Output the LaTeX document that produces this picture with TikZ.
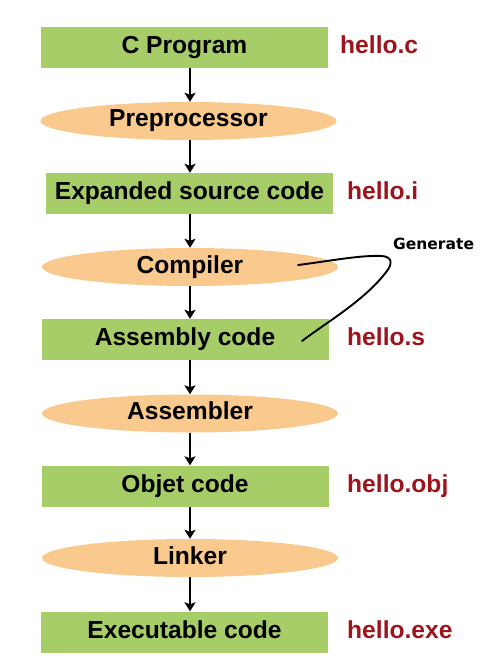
\documentclass[tikz,border=0pt]{standalone}
\usepackage{fontspec}
\setmainfont{Liberation Sans}
\newfontfamily\genfont{DejaVu Sans}
\usetikzlibrary{arrows.meta,shapes.geometric}
\definecolor{boxgreen}{RGB}{166,205,104}
\definecolor{ellorange}{RGB}{250,201,142}
\definecolor{labred}{RGB}{158,20,28}
\tikzset{
  every node/.style={font=\fontsize{24.6}{28}\selectfont\bfseries, inner sep=0pt, text height=17pt, text depth=5pt},
  stagebox/.style={rectangle, fill=boxgreen, minimum width=287pt, minimum height=41pt},
  toolell/.style={ellipse, fill=ellorange, minimum width=296pt, minimum height=38pt},
  filelab/.style={anchor=west, text=labred},
  flow/.style={line width=2.2pt, -{Stealth[length=9pt,width=11pt,inset=2pt]}},
  gencurve/.style={line width=1.9pt, line cap=round, line join=round}
}
\begin{document}
\begin{tikzpicture}[x=1pt,y=-1pt]
\useasboundingbox (0,0) rectangle (488,668);
\node[stagebox] (cprog) at (184.5,47.5) {C Program};
\node[toolell] (pre) at (188.5,121) {Preprocessor};
\node[stagebox] (exp) at (189.5,193.5) {Expanded source code};
\node[toolell] (comp) at (190,267) {Compiler};
\node[stagebox] (asm) at (185,339.5) {Assembly code};
\node[toolell] (asmr) at (190,413.5) {Assembler};
\node[stagebox] (obj) at (185,486) {Objet code};
\node[toolell] (link) at (190,558) {Linker};
\node[stagebox] (exe) at (184.5,632) {Executable code};

\node[filelab] (lc) at (340,47.5) {hello.c};
\node[filelab] (li) at (347,193.5) {hello.i};
\node[filelab] (ls) at (347,339.5) {hello.s};
\node[filelab] (lo) at (347,486) {hello.obj};
\node[filelab] (le) at (347,632) {hello.exe};

\draw[flow] ([xshift=5.5pt]cprog.south) -- ([xshift=1.5pt]pre.north);
\draw[flow] ([xshift=1.5pt]pre.south) -- ([xshift=0.5pt]exp.north);
\draw[flow] ([xshift=0.5pt]exp.south) -- (comp.north);
\draw[flow] (comp.south) -- ([xshift=5pt]asm.north);
\draw[flow] ([xshift=5pt]asm.south) -- (asmr.north);
\draw[flow] (asmr.south) -- ([xshift=5pt]obj.north);
\draw[flow] ([xshift=5pt]obj.south) -- (link.north);
\draw[flow] (link.south) -- ([xshift=5.5pt]exe.north);

\coordinate (g1) at (298,265);
\coordinate (g2) at (302,341);
\draw[gencurve] (g1) .. controls (330,261) and (360,255) .. (382,256)
  .. controls (393,257) and (392,264) .. (387,271)
  .. controls (365,300) and (330,320) .. (g2);
\node[anchor=base west, font=\genfont\fontsize{15.5}{18}\selectfont\bfseries, text height=11.5pt, text depth=0pt] (gen) at (393,249) {Generate};
\end{tikzpicture}
\end{document}
